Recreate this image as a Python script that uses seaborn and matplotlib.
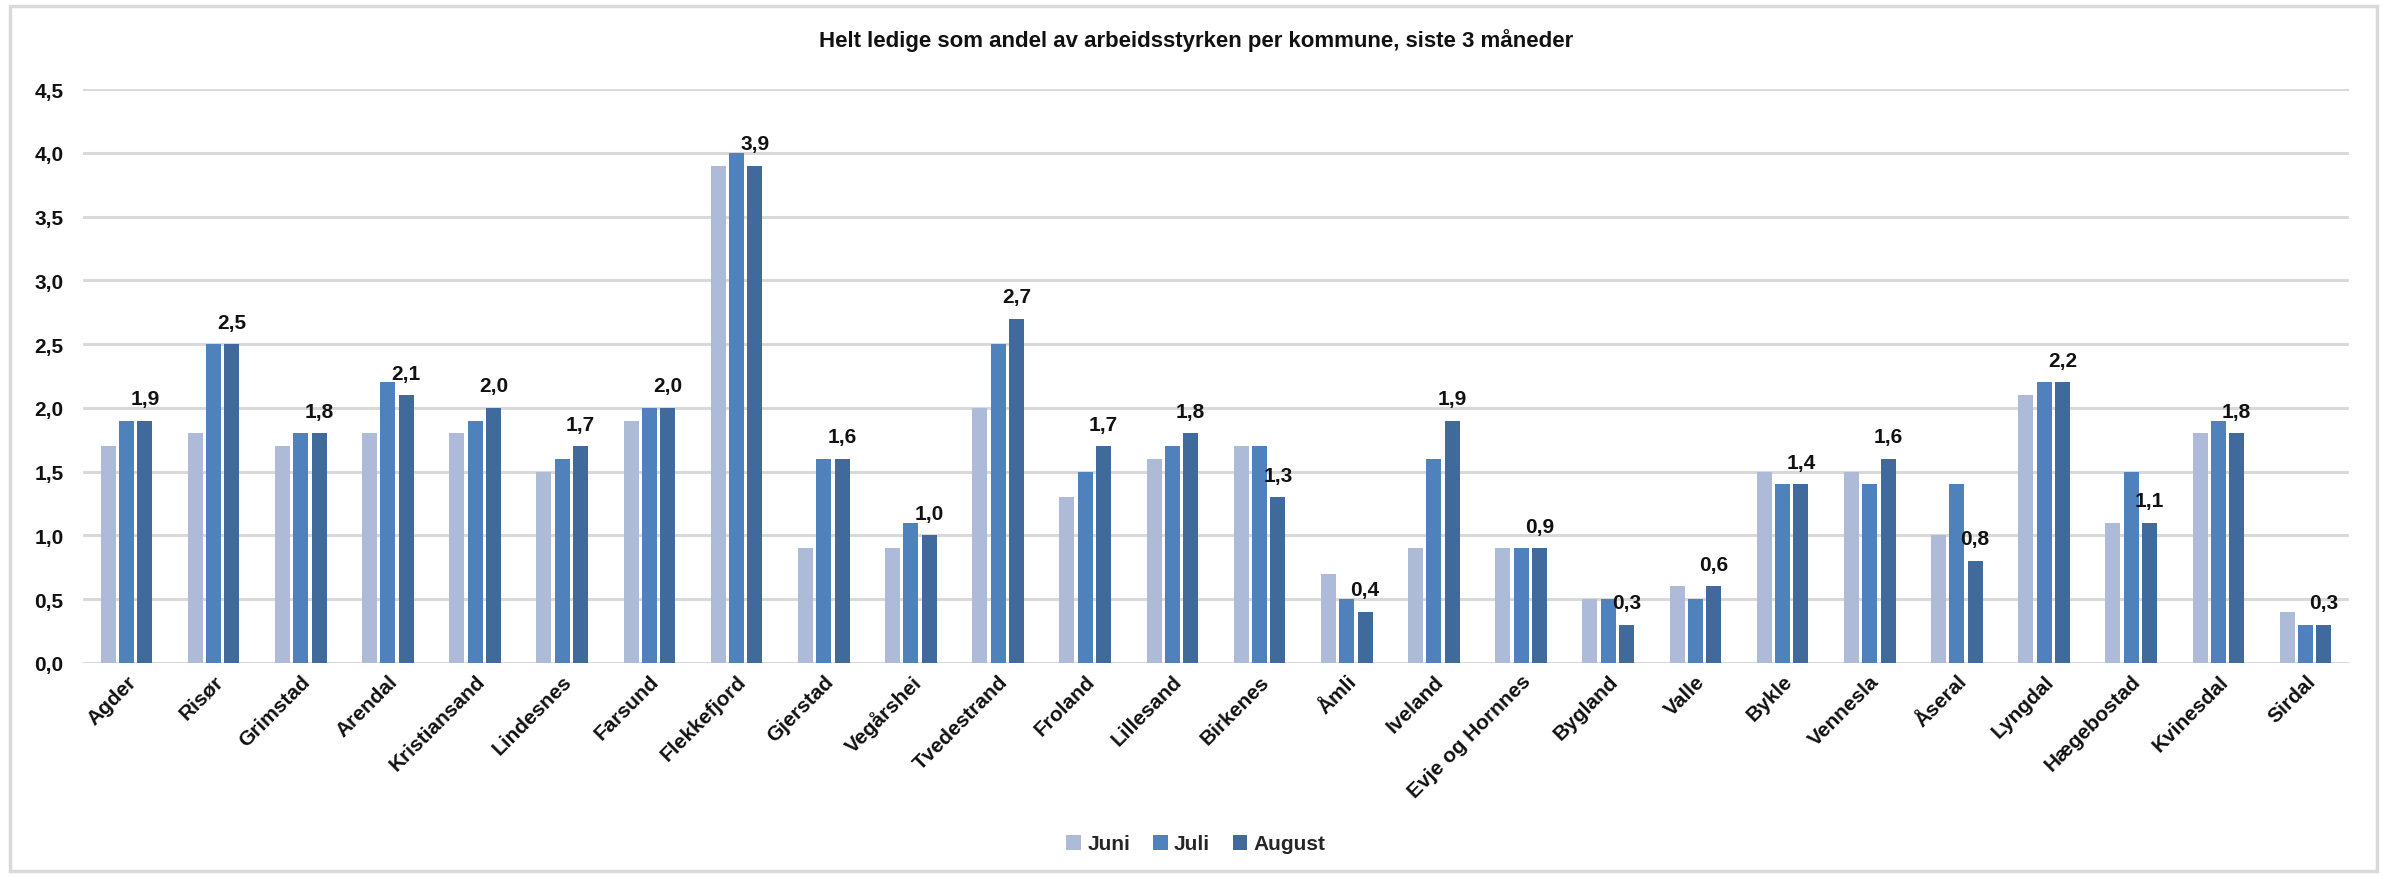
import matplotlib
matplotlib.use("Agg")
import matplotlib.pyplot as plt
import seaborn as sns
import pandas as pd
from matplotlib.patches import Rectangle

kommuner = ["Agder", "Risør", "Grimstad", "Arendal", "Kristiansand", "Lindesnes",
            "Farsund", "Flekkefjord", "Gjerstad", "Vegårshei", "Tvedestrand", "Froland",
            "Lillesand", "Birkenes", "Åmli", "Iveland", "Evje og Hornnes", "Bygland",
            "Valle", "Bykle", "Vennesla", "Åseral", "Lyngdal", "Hægebostad",
            "Kvinesdal", "Sirdal"]
juni = [1.7, 1.8, 1.7, 1.8, 1.8, 1.5, 1.9, 3.9, 0.9, 0.9, 2.0, 1.3, 1.6, 1.7, 0.7,
        0.9, 0.9, 0.5, 0.6, 1.5, 1.5, 1.0, 2.1, 1.1, 1.8, 0.4]
juli = [1.9, 2.5, 1.8, 2.2, 1.9, 1.6, 2.0, 4.0, 1.6, 1.1, 2.5, 1.5, 1.7, 1.7, 0.5,
        1.6, 0.9, 0.5, 0.5, 1.4, 1.4, 1.4, 2.2, 1.5, 1.9, 0.3]
august = [1.9, 2.5, 1.8, 2.1, 2.0, 1.7, 2.0, 3.9, 1.6, 1.0, 2.7, 1.7, 1.8, 1.3, 0.4,
          1.9, 0.9, 0.3, 0.6, 1.4, 1.6, 0.8, 2.2, 1.1, 1.8, 0.3]
maaneder = ["Juni", "Juli", "August"]
yticks = [0.0, 0.5, 1.0, 1.5, 2.0, 2.5, 3.0, 3.5, 4.0, 4.5]
title = "Helt ledige som andel av arbeidsstyrken per kommune, siste 3 måneder"

colors = ["#ADBBD9", "#4F81BD", "#416A9C"]

df = pd.DataFrame({
    "Kommune": kommuner * 3,
    "Måned": sum([[m] * len(kommuner) for m in maaneder], []),
    "Verdi": juni + juli + august,
})

sns.set_theme(style="white")
plt.rcParams['font.family'] = ['Liberation Sans Narrow', 'Liberation Sans', 'DejaVu Sans']
plt.rcParams['font.weight'] = 'bold'

fig = plt.figure(figsize=(23.89, 8.79), dpi=100)
ax = fig.add_axes([0.0347, 0.2446, 0.9833 - 0.0347, 0.8976 - 0.2446])

sns.barplot(data=df, x="Kommune", y="Verdi", hue="Måned", hue_order=maaneder,
            palette=colors, width=0.63, gap=0.18, ax=ax, legend=True,
            saturation=1, edgecolor="none")

txtcol = "#111111"
fs = 15
ax.set_ylim(0, 4.5)
ax.set_xlim(-0.5, len(kommuner) - 0.5)
ax.set_yticks(yticks)
ax.set_yticklabels([f"{v:.1f}".replace(".", ",") for v in yticks],
                   fontsize=fs, fontweight="bold", color=txtcol)
ax.tick_params(axis="y", length=0, pad=14)
ax.tick_params(axis="x", length=0, pad=6)
ax.set_xticks(range(len(kommuner)))
ax.set_xticklabels(kommuner, rotation=45, ha="right", rotation_mode="anchor",
                   fontsize=fs, fontweight="bold", color=txtcol)
ax.set_xlabel("")
ax.set_ylabel("")
ax.grid(axis="y", color="#D9D9D9", linewidth=2.2)
ax.set_axisbelow(True)
for s in ax.spines.values():
    s.set_visible(False)

aug_container = ax.containers[2]
ax.bar_label(aug_container, labels=[f"{v:.1f}".replace(".", ",") for v in august],
             padding=9, fontsize=fs, fontweight="bold", color=txtcol)

handles, labels = ax.get_legend_handles_labels()
ax.get_legend().remove()
fig.legend(handles, labels, loc="center", bbox_to_anchor=(1196 / 2389, 1 - 845 / 879),
           ncol=3, frameon=False, handlelength=0.7, handleheight=0.7,
           handletextpad=0.3, columnspacing=1.1, prop={"weight": "bold", "size": fs})

fig.text(1196 / 2389, 1 - 41 / 879, title, ha="center", va="center",
         fontsize=16, fontweight="bold", color=txtcol)

fig.patches.append(Rectangle((10 / 2389, 7 / 879), (2377 - 10) / 2389, (872 - 7) / 879,
                             transform=fig.transFigure, fill=False,
                             edgecolor="#D9D9D9", linewidth=2.5))

fig.savefig("out.png", dpi=100, facecolor="white")
